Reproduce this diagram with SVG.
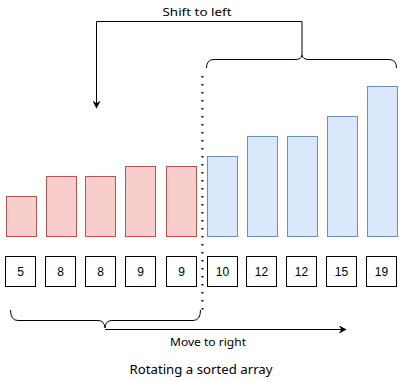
<svg xmlns="http://www.w3.org/2000/svg" width="405" height="381" viewBox="0 0 405 381">
<defs>
<style>
.red{fill:#f8cecc;stroke:#b85450;stroke-width:1}
.blue{fill:#dae8fc;stroke:#6c8ebf;stroke-width:1}
.box{fill:#ffffff;stroke:#000000;stroke-width:1}
.num{font-family:"Liberation Sans",Arial,sans-serif;font-size:12px;fill:#000;text-anchor:middle}
.lbl{font-family:"Comic Sans MS","Noto Sans","DejaVu Sans",sans-serif;font-size:11px;fill:#000;text-anchor:middle}
.line{fill:none;stroke:#000;stroke-width:1}
</style>
<marker id="arr" viewBox="0 0 10 10" refX="9" refY="5" markerWidth="8" markerHeight="8" markerUnits="userSpaceOnUse" orient="auto">
<path d="M0,0 L10,5 L0,10 L3,5 Z" fill="#000"/>
</marker>
</defs>
<rect width="405" height="381" fill="#ffffff"/>
<g id="bars">
<rect id="bar-5" class="red" x="6.5" y="196.5" width="30" height="40"/>
<rect id="bar-8a" class="red" x="46.5" y="176.5" width="30" height="60"/>
<rect id="bar-8b" class="red" x="85.5" y="176.5" width="30" height="60"/>
<rect id="bar-9a" class="red" x="125.5" y="166.5" width="30" height="70"/>
<rect id="bar-9b" class="red" x="166.5" y="166.5" width="30" height="70"/>
<rect id="bar-10" class="blue" x="207.5" y="156.5" width="30" height="80"/>
<rect id="bar-12a" class="blue" x="247.5" y="136.5" width="30" height="100"/>
<rect id="bar-12b" class="blue" x="287.5" y="136.5" width="30" height="100"/>
<rect id="bar-15" class="blue" x="327.5" y="116.5" width="30" height="120"/>
<rect id="bar-19" class="blue" x="367.5" y="86.5" width="30" height="150"/>
</g>
<g id="cell-0"><rect class="box" x="5.5" y="256.5" width="30" height="30"/><text class="num" x="20.5" y="275.5">5</text></g>
<g id="cell-1"><rect class="box" x="45.5" y="256.5" width="30" height="30"/><text class="num" x="60.5" y="275.5">8</text></g>
<g id="cell-2"><rect class="box" x="85.5" y="256.5" width="30" height="30"/><text class="num" x="100.5" y="275.5">8</text></g>
<g id="cell-3"><rect class="box" x="125.5" y="256.5" width="30" height="30"/><text class="num" x="140.5" y="275.5">9</text></g>
<g id="cell-4"><rect class="box" x="166.5" y="256.5" width="30" height="30"/><text class="num" x="181.5" y="275.5">9</text></g>
<g id="cell-5"><rect class="box" x="207.5" y="256.5" width="30" height="30"/><text class="num" x="222.5" y="275.5">10</text></g>
<g id="cell-6"><rect class="box" x="246.5" y="256.5" width="30" height="30"/><text class="num" x="261.5" y="275.5">12</text></g>
<g id="cell-7"><rect class="box" x="286.5" y="256.5" width="30" height="30"/><text class="num" x="301.5" y="275.5">12</text></g>
<g id="cell-8"><rect class="box" x="326.5" y="256.5" width="30" height="30"/><text class="num" x="341.5" y="275.5">15</text></g>
<g id="cell-9"><rect class="box" x="366.5" y="256.5" width="30" height="30"/><text class="num" x="381.5" y="275.5">19</text></g>
<g id="divider">
<line x1="202.5" y1="76" x2="202.5" y2="312" stroke="#000" stroke-width="2" stroke-dasharray="1.5 6.5"/>
</g>
<g id="brace-top">
<path class="line" d="M206.5,68 Q206.5,59.5 214,59.5 L295,59.5 Q301.5,59.5 302,55 Q302.5,59.5 309,59.5 L389,59.5 Q396.5,59.5 396.5,68"/>
</g>
<g id="brace-bottom">
<path class="line" d="M10.5,310 Q10.5,320.5 18,320.5 L98,320.5 Q104.5,320.5 105,328 Q105.5,320.5 112,320.5 L193,320.5 Q200.5,320.5 200.5,310"/>
</g>
<g id="connectors">
<path class="line" d="M302,55 L302,21.5 L96.5,21.5 L96.5,108" marker-end="url(#arr)"/>
<path class="line" d="M105,329.5 L346,329.5" marker-end="url(#arr)"/>
</g>
<g id="labels">
<text class="lbl" x="197" y="16" textLength="69" lengthAdjust="spacingAndGlyphs">Shift to left</text>
<text class="lbl" x="208" y="345.5" textLength="76" lengthAdjust="spacingAndGlyphs">Move to right</text>
<text class="lbl" x="201" y="374" font-size="12" textLength="143" lengthAdjust="spacingAndGlyphs" style="font-size:12px">Rotating a sorted array</text>
</g>
</svg>
